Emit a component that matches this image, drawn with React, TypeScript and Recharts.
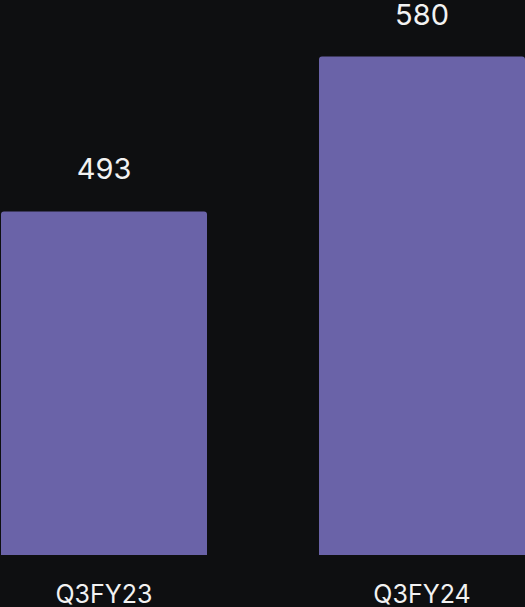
import { BarChart, Bar, XAxis, YAxis, LabelList } from "recharts";

const quarters = ["Q3FY23", "Q3FY24"];
const values = [493, 580];

const data = quarters.map((q, i) => ({ quarter: q, value: values[i] }));

export default function App() {
  return (
    <div
      style={{
        position: "fixed",
        top: 0,
        left: 0,
        width: 525,
        height: 607,
        overflow: "hidden",
        background: "#0e0f11",
        fontFamily: "Inter, 'Noto Sans', sans-serif",
      }}
    >
      <div style={{ position: "absolute", left: -55, top: 0 }}>
        <BarChart width={636} height={607} data={data} margin={{ top: 21, right: 0, left: 0, bottom: 0 }}>
          <XAxis
            dataKey="quarter"
            axisLine={false}
            tickLine={false}
            height={52}
            tickMargin={24}
            tick={{ fontSize: 25, fill: "#f2f2f2" }}
          />
          <YAxis hide domain={[300, 600]} />
          <Bar dataKey="value" fill="#6a63a8" barSize={206} radius={[3, 3, 0, 0]} isAnimationActive={false}>
            <LabelList dataKey="value" position="top" offset={32} fill="#f2f2f2" fontSize={29} />
          </Bar>
        </BarChart>
      </div>
    </div>
  );
}
